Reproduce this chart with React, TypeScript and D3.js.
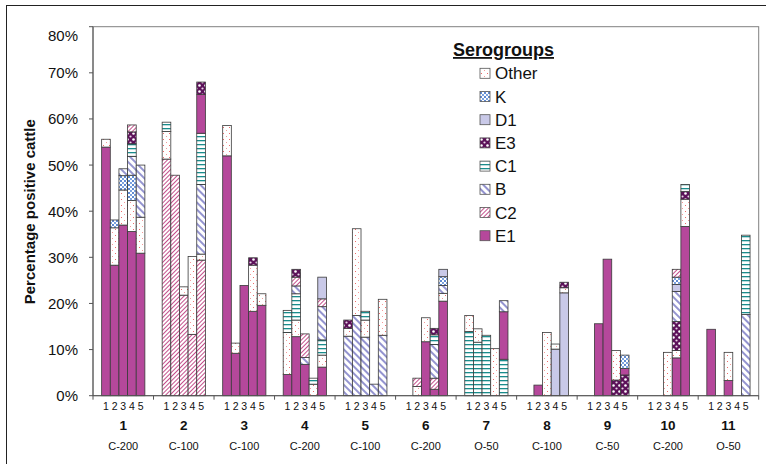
import React from 'react';
import * as d3 from 'd3';

type Seg = [string, number];

// serogroups, legend order (top to bottom)
const serogroups = ['Other', 'K', 'D1', 'E3', 'C1', 'B', 'C2', 'E1'];

// group labels under the axis
const groupNames = ['1', '2', '3', '4', '5', '6', '7', '8', '9', '10', '11'];
const groupTypes = ['C-200', 'C-100', 'C-100', 'C-200', 'C-100', 'C-200', 'O-50', 'C-100', 'C-50', 'C-200', 'O-50'];
const barNames = ['1', '2', '3', '4', '5'];
const yTicks = [0, 10, 20, 30, 40, 50, 60, 70, 80];

// each group: 5 bars, each bar = segments from bottom to top (% positive)
const group1: Seg[][] = [
  [['E1', 53.9], ['Other', 1.7]],
  [['E1', 28.3], ['Other', 8.1], ['K', 1.7]],
  [['E1', 37.0], ['Other', 7.6], ['K', 3.1], ['B', 1.5]],
  [['E1', 35.6], ['Other', 6.7], ['K', 5.5], ['B', 4.1], ['C1', 2.7], ['E3', 2.6], ['C2', 1.5]],
  [['E1', 30.9], ['Other', 7.8], ['B', 11.3]],
];
const group2: Seg[][] = [
  [['C2', 51.3], ['Other', 6.0], ['C1', 2.0]],
  [['C2', 47.8]],
  [['C2', 21.8], ['Other', 1.8]],
  [['C2', 13.3], ['Other', 16.9]],
  [['C2', 29.4], ['Other', 1.3], ['B', 15.1], ['C1', 11.1], ['E1', 8.4], ['E3', 2.7]],
];
const group3: Seg[][] = [
  [['E1', 52.0], ['Other', 6.6]],
  [['E1', 9.2], ['Other', 2.2]],
  [['E1', 23.9]],
  [['E1', 18.3], ['Other', 10.0], ['E3', 1.6]],
  [['E1', 19.6], ['Other', 2.5]],
];
const group4: Seg[][] = [
  [['E1', 4.6], ['Other', 9.1], ['C1', 4.8]],
  [['E1', 12.8], ['Other', 3.6], ['C1', 5.7], ['B', 1.7], ['C2', 1.9], ['E3', 1.7]],
  [['E1', 6.8], ['B', 1.5], ['C2', 5.1]],
  [['Other', 2.5], ['C1', 1.3]],
  [['E1', 6.2], ['Other', 2.6], ['C1', 3.3], ['B', 7.2], ['C2', 1.7], ['D1', 4.7]],
];
const group5: Seg[][] = [
  [['B', 12.9], ['Other', 1.7], ['E3', 1.8]],
  [['B', 17.4], ['Other', 18.8]],
  [['B', 12.7], ['Other', 3.7], ['C1', 1.9]],
  [['B', 2.5]],
  [['B', 13.1], ['Other', 7.8]],
];
const group6: Seg[][] = [
  [],
  [['Other', 2.0], ['C2', 1.8]],
  [['E1', 11.7], ['Other', 5.2]],
  [['E1', 1.4], ['C2', 2.4], ['B', 7.3], ['C1', 2.1], ['E3', 1.4]],
  [['E1', 20.5], ['Other', 1.7], ['B', 1.7], ['K', 1.9], ['D1', 1.6]],
];
const group7: Seg[][] = [
  [['C1', 13.9], ['Other', 3.5]],
  [['C1', 11.6], ['Other', 2.9]],
  [['C1', 13.1]],
  [['Other', 10.2]],
  [['C1', 7.9], ['E1', 10.3], ['B', 2.4]],
];
const group8: Seg[][] = [
  [],
  [['E1', 2.3]],
  [['Other', 13.7]],
  [['D1', 10.1], ['Other', 1.1]],
  [['D1', 22.3], ['Other', 1.1], ['E3', 1.2]],
];
const group9: Seg[][] = [
  [],
  [['E1', 15.6]],
  [['E1', 29.6]],
  [['E3', 3.4], ['Other', 6.4]],
  [['E3', 4.5], ['E1', 1.4], ['K', 2.9]],
];
const group10: Seg[][] = [
  [],
  [],
  [['Other', 9.4]],
  [['E1', 8.2], ['Other', 1.6], ['E3', 6.3], ['B', 6.5], ['D1', 1.5], ['K', 1.6], ['C2', 1.7]],
  [['E1', 36.7], ['Other', 5.9], ['E3', 1.7], ['C1', 1.5]],
];
const group11: Seg[][] = [
  [['E1', 14.4]],
  [],
  [['E1', 3.3], ['Other', 6.1]],
  [],
  [['B', 17.6], ['C1', 17.2]],
];

const groups = [group1, group2, group3, group4, group5, group6, group7, group8, group9, group10, group11];

const W = 766;
const H = 464;
const margin = { left: 93, top: 26.7, right: 7.3, bottom: 68.3 };
const SLOTS_PER_GROUP = 7;
const FONT = '"Liberation Sans", Arial, Helvetica, sans-serif';

const fills: Record<string, string> = {
  Other: 'url(#p-other)',
  K: 'url(#p-k)',
  D1: '#c9c9e8',
  E3: 'url(#p-e3)',
  C1: 'url(#p-c1)',
  B: 'url(#p-b)',
  C2: 'url(#p-c2)',
  E1: '#b5489b',
};

const App = () => {
  const x = d3.scaleBand<number>()
    .domain(d3.range(groups.length * SLOTS_PER_GROUP))
    .range([margin.left, W - margin.right])
    .padding(0);

  const y = d3.scaleLinear()
    .domain([0, 80])
    .range([H - margin.bottom, margin.top]);

  const bw = x.bandwidth();
  const y0 = y(0);

  // flatten to rects
  const rects: { key: string; x: number; y: number; h: number; id: string }[] = [];
  groups.forEach((g, gi) => {
    g.forEach((bar, bi) => {
      const slot = gi * SLOTS_PER_GROUP + 1 + bi;
      let acc = 0;
      bar.forEach(([key, v], si) => {
        const top = y(acc + v);
        const bottom = y(acc);
        rects.push({ key, x: x(slot)!, y: top, h: bottom - top, id: `${gi}-${bi}-${si}` });
        acc += v;
      });
    });
  });

  const groupTicks = d3.range(0, groups.length * SLOTS_PER_GROUP + 1, SLOTS_PER_GROUP)
    .map(i => margin.left + i * bw);

  return (
    <svg width={W} height={H} style={{ position: 'absolute', left: 0, top: 0, background: '#fff' }}
      fontFamily={FONT}>
      <defs>
        <pattern id="p-other" width="6" height="6" patternUnits="userSpaceOnUse">
          <rect width="6" height="6" fill="#fff" />
          <rect x="1" y="1" width="1" height="1" fill="#f06a6a" />
          <rect x="4" y="4" width="1" height="1" fill="#f59a9a" />
        </pattern>
        <pattern id="p-k" width="4" height="4" patternUnits="userSpaceOnUse">
          <rect width="4" height="4" fill="#fff" />
          <circle cx="1" cy="1" r="1" fill="#2a63c4" />
          <circle cx="3" cy="3" r="0.9" fill="#3f78d2" />
        </pattern>
        <pattern id="p-e3" width="6" height="6" patternUnits="userSpaceOnUse">
          <rect width="6" height="6" fill="#5c1159" />
          <circle cx="1.5" cy="1.5" r="1.3" fill="#fff" />
          <circle cx="4.5" cy="4.5" r="1.1" fill="#e9d6e8" />
        </pattern>
        <pattern id="p-c1" width="4" height="4" patternUnits="userSpaceOnUse">
          <rect width="4" height="4" fill="#fff" />
          <rect y="0" width="4" height="1.3" fill="#1a8c8c" />
        </pattern>
        <pattern id="p-b" width="5" height="5" patternUnits="userSpaceOnUse" patternTransform="rotate(-45)">
          <rect width="5" height="5" fill="#fff" />
          <rect x="0" width="2" height="5" fill="#9494d0" />
        </pattern>
        <pattern id="p-c2" width="3" height="3" patternUnits="userSpaceOnUse" patternTransform="rotate(45)">
          <rect width="3" height="3" fill="#fff" />
          <rect x="0" width="1" height="3" fill="#c4508c" />
        </pattern>
      </defs>

      {/* outer frame */}
      <line x1={6} x2={W} y1={5.5} y2={5.5} stroke="#222" />
      <line x1={6.5} x2={6.5} y1={5} y2={H} stroke="#222" />

      {/* plot frame */}
      <rect x={margin.left} y={margin.top} width={W - margin.right - margin.left}
        height={y0 - margin.top} fill="none" stroke="#808080" strokeWidth={1} />

      {/* bars */}
      {rects.map(r => (
        <rect key={r.id} x={r.x} y={r.y} width={bw} height={r.h}
          fill={fills[r.key]} stroke="#3a3a3a" strokeWidth={0.8} />
      ))}

      {/* y axis */}
      <line x1={margin.left} x2={margin.left} y1={margin.top} y2={y0} stroke="#555" />
      {yTicks.map(t => (
        <g key={t}>
          <line x1={margin.left - 4} x2={margin.left} y1={y(t)} y2={y(t)} stroke="#555" />
          <text x={78} y={Math.max(y(t), margin.top + 8.5)} textAnchor="end" dominantBaseline="central"
            fontSize={15} fill="#111">{t}%</text>
        </g>
      ))}
      <text transform={`translate(35,${(margin.top + y0) / 2 + 0.5}) rotate(-90)`} textAnchor="middle"
        fontSize={15} fontWeight="bold" fill="#111">Percentage positive cattle</text>

      {/* x axis */}
      <line x1={margin.left} x2={W - margin.right} y1={y0} y2={y0} stroke="#555" />
      {groupTicks.map((tx, i) => (
        <line key={i} x1={tx} x2={tx} y1={y0} y2={y0 + 4} stroke="#555" />
      ))}
      {groups.map((_, gi) => (
        <g key={gi}>
          {barNames.map((b, bi) => (
            <text key={b} x={x(gi * SLOTS_PER_GROUP + 1 + bi)! + bw / 2} y={405.5}
              textAnchor="middle" dominantBaseline="central" fontSize={10.5} fill="#111">{b}</text>
          ))}
          <text x={x(gi * SLOTS_PER_GROUP + 3)! + bw / 2} y={425} textAnchor="middle"
            dominantBaseline="central" fontSize={13.5} fontWeight="bold" fill="#111">{groupNames[gi]}</text>
          <text x={x(gi * SLOTS_PER_GROUP + 3)! + bw / 2} y={446} textAnchor="middle"
            dominantBaseline="central" fontSize={11} fill="#111">{groupTypes[gi]}</text>
        </g>
      ))}

      {/* legend */}
      <text x={503.5} y={56} textAnchor="middle" fontSize={18} fontWeight="bold"
        textDecoration="underline" fill="#111">Serogroups</text>
      {serogroups.map((s, i) => {
        const cy = 73.3 + i * 23.2;
        return (
          <g key={s}>
            <rect x={480} y={cy - 5} width={10} height={10} fill={fills[s]} stroke="#555" strokeWidth={0.8} />
            <text x={495} y={cy + 0.5} dominantBaseline="central" fontSize={17} fill="#111">{s}</text>
          </g>
        );
      })}
    </svg>
  );
};

export default App;
